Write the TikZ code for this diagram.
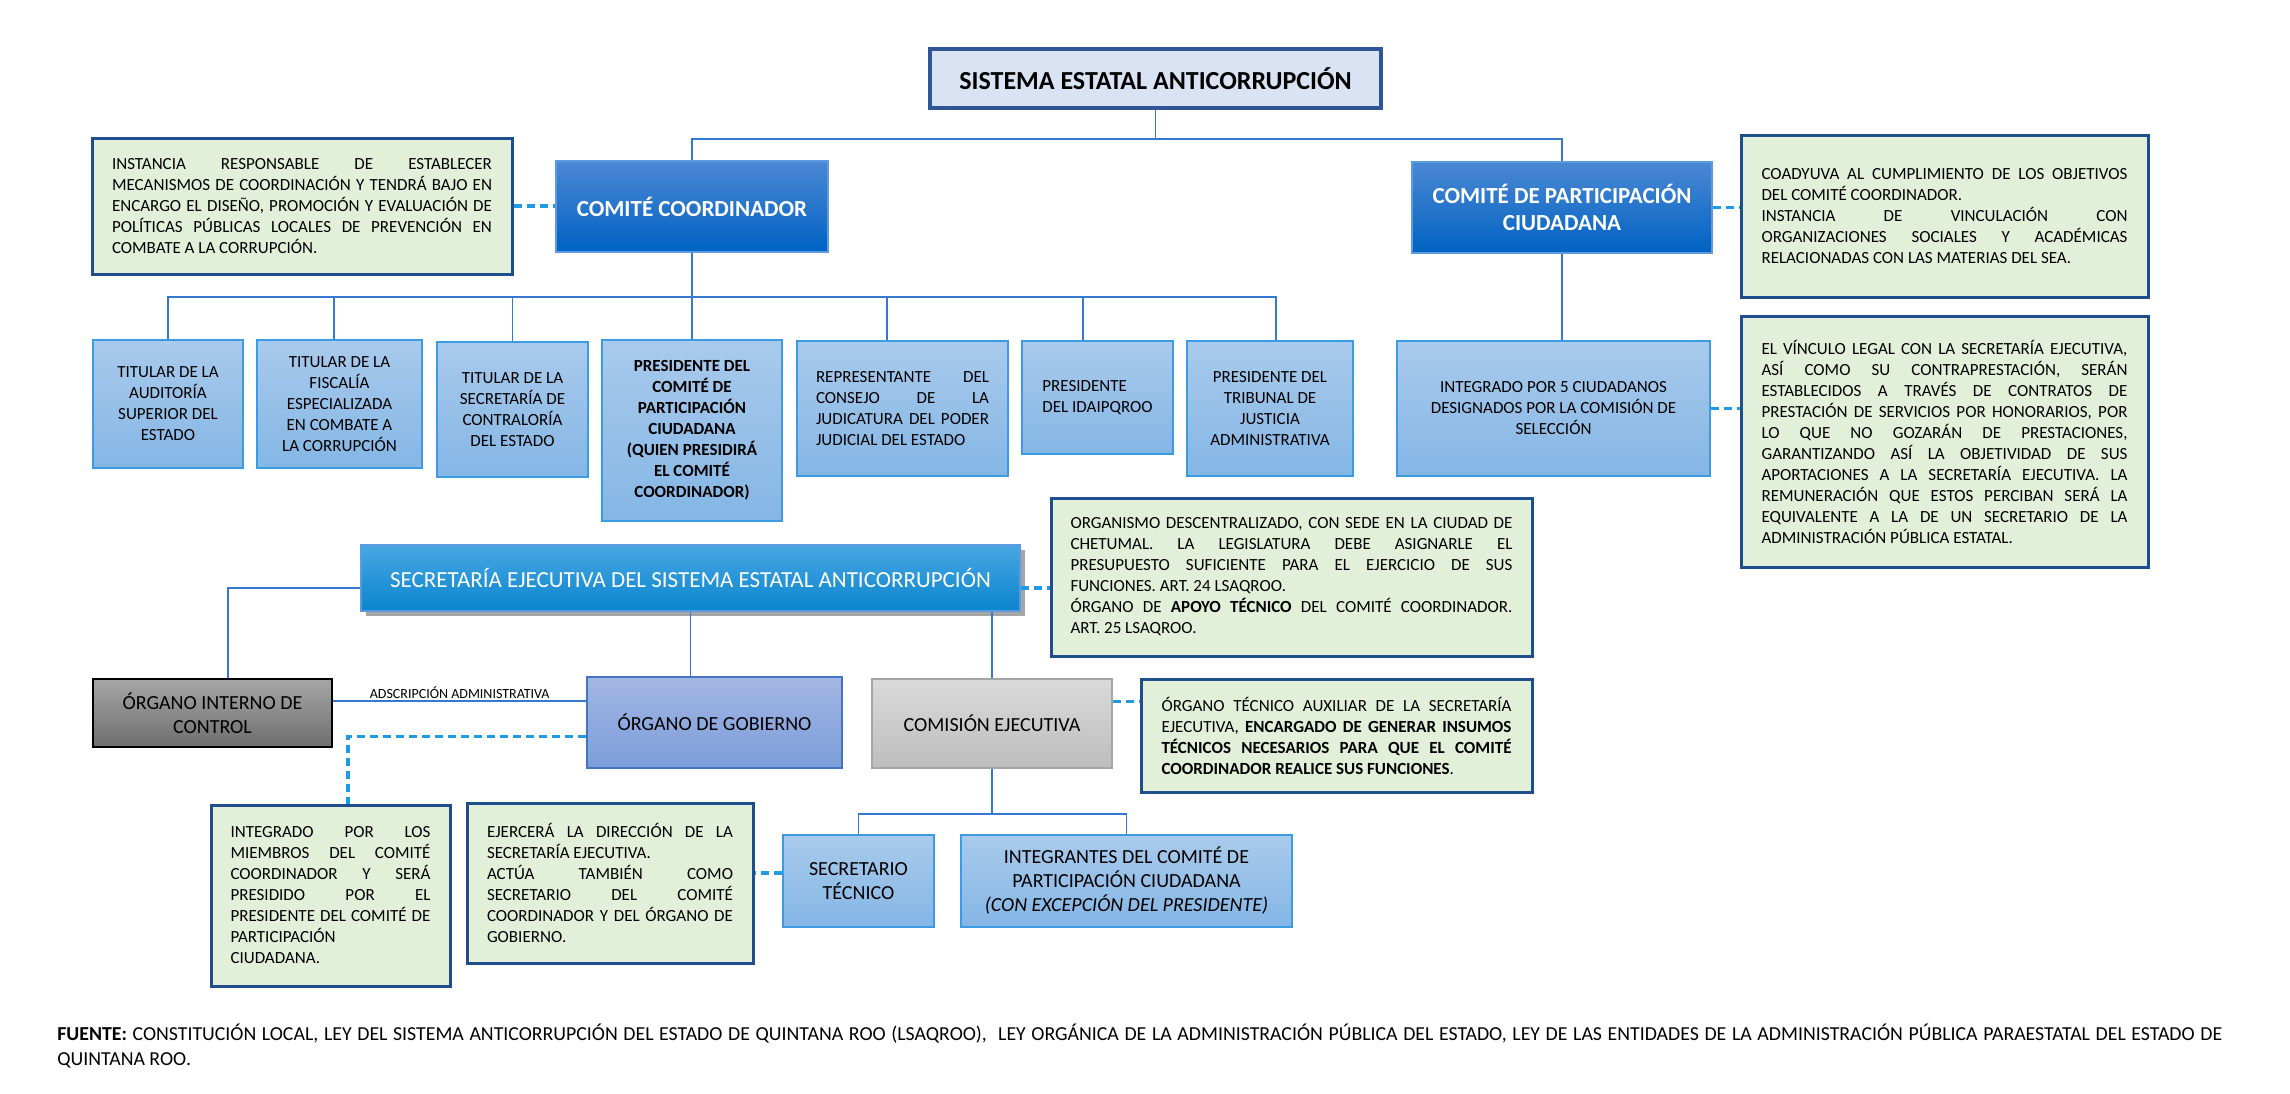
\documentclass[tikz,border=0pt]{standalone}
\usepackage{fontspec}
\setmainfont{Carlito}
\usetikzlibrary{shadows}

\definecolor{linkblue}{HTML}{3479CF}
\definecolor{dashblue}{HTML}{1E9BE3}
\definecolor{notefill}{HTML}{E2EFD9}
\definecolor{notebd}{HTML}{1F4E8C}
\definecolor{titlefill}{HTML}{DAE3F3}
\definecolor{titlebd}{HTML}{2F5597}
\definecolor{memtop}{HTML}{A9CAEC}
\definecolor{membot}{HTML}{84B6E5}
\definecolor{membd}{HTML}{3C9CE3}
\definecolor{headtop}{HTML}{4C88D4}
\definecolor{headbot}{HTML}{0062C2}
\definecolor{headbd}{HTML}{5B9BE0}
\definecolor{sectop}{HTML}{48A6E2}
\definecolor{secbot}{HTML}{0A85CE}
\definecolor{gobtop}{HTML}{A3B6E5}
\definecolor{gobbot}{HTML}{7C9DD8}
\definecolor{gobbd}{HTML}{4472C4}
\definecolor{comtop}{HTML}{DADADA}
\definecolor{combot}{HTML}{BDBDBD}
\definecolor{combd}{HTML}{A5A5A5}
\definecolor{oictop}{HTML}{A6A6A6}
\definecolor{oicbot}{HTML}{6E6E6E}

\newcommand{\txtnote}{\fontsize{8.5}{10.5}\selectfont}
\newcommand{\txthead}{\fontsize{11.5}{13.5}\selectfont}
\newcommand{\txtorg}{\fontsize{10}{12}\selectfont}

\tolerance=10000
\hbadness=10000

\begin{document}
\begin{tikzpicture}[x=0.5pt,y=-0.5pt,
    conn/.style={draw=linkblue,line width=0.9pt},
    dashlink/.style={draw=dashblue,line width=1.6pt,dash pattern=on 4pt off 2.5pt},
    note/.style={draw=notebd,line width=1.5pt,fill=notefill,inner sep=0pt,align=justify,font=\txtnote},
    member/.style={draw=membd,line width=0.8pt,top color=memtop,bottom color=membot,inner sep=0pt,align=center,font=\txtnote},
    head/.style={draw=headbd,line width=0.8pt,top color=headtop,bottom color=headbot,text=white,inner sep=0pt,align=center,font=\txthead\bfseries}]
  \useasboundingbox (0,0) rectangle (2290,1093);

  % cabeza
  \node[draw=titlebd,line width=1.6pt,fill=titlefill,minimum width=225.5pt,minimum height=29.5pt,font=\fontsize{13}{15}\selectfont\bfseries] (sistema) at (1155.5,78.5) {SISTEMA ESTATAL ANTICORRUPCIÓN};
  \node[head,minimum width=136pt,minimum height=45.5pt] (coord) at (692,206.5) {COMITÉ COORDINADOR};
  \node[head,minimum width=150pt,minimum height=45.5pt] (cpc) at (1562,207.5) {COMITÉ DE PARTICIPACIÓN\\CIUDADANA};
  \node[note,minimum width=210pt,minimum height=68pt,text width=190pt] (ncoord) at (302,206) {INSTANCIA RESPONSABLE DE ESTABLECER\linebreak MECANISMOS DE COORDINACIÓN Y TENDRÁ BAJO EN\linebreak ENCARGO EL DISEÑO, PROMOCIÓN Y EVALUACIÓN DE\linebreak POLÍTICAS PÚBLICAS LOCALES DE PREVENCIÓN EN\linebreak COMBATE A LA CORRUPCIÓN.};
  \node[note,minimum width=203.5pt,minimum height=81pt,text width=183pt] (ncpc) at (1944.5,216) {COADYUVA AL CUMPLIMIENTO DE LOS OBJETIVOS\linebreak DEL COMITÉ COORDINADOR.\par INSTANCIA DE VINCULACIÓN CON\linebreak ORGANIZACIONES SOCIALES Y ACADÉMICAS\linebreak RELACIONADAS CON LAS MATERIAS DEL SEA.};

  % integrantes del comite coordinador
  \node[member,minimum width=75pt,minimum height=64pt] (audit) at (168,404) {TITULAR DE LA\\AUDITORÍA\\SUPERIOR DEL\\ESTADO};
  \node[member,minimum width=82.5pt,minimum height=64pt] (fisc) at (339.5,404) {TITULAR DE LA\\FISCALÍA\\ESPECIALIZADA\\EN COMBATE A\\LA CORRUPCIÓN};
  \node[member,minimum width=75.5pt,minimum height=67.5pt] (contral) at (512.5,409.5) {TITULAR DE LA\\SECRETARÍA DE\\CONTRALORÍA\\DEL ESTADO};
  \node[member,minimum width=90pt,minimum height=90.5pt,font=\txtnote\bfseries] (prescpc) at (692,430.5) {PRESIDENTE DEL\\COMITÉ DE\\PARTICIPACIÓN\\CIUDADANA\\(QUIEN PRESIDIRÁ\\EL COMITÉ\\COORDINADOR)};
  \node[member,minimum width=105.5pt,minimum height=67.5pt,text width=86.5pt,align=justify] (judic) at (902.5,408.5) {REPRESENTANTE DEL\linebreak CONSEJO DE LA\linebreak JUDICATURA DEL PODER\linebreak JUDICIAL DEL ESTADO};
  \node[member,minimum width=75.5pt,minimum height=56.5pt,align=left] (idaip) at (1097.5,397.5) {PRESIDENTE\\DEL IDAIPQROO};
  \node[member,minimum width=83pt,minimum height=67.5pt] (tribunal) at (1270,408.5) {PRESIDENTE DEL\\TRIBUNAL DE\\JUSTICIA\\ADMINISTRATIVA};
  \node[member,minimum width=156.5pt,minimum height=67.5pt] (ciud) at (1553.5,408.5) {INTEGRADO POR 5 CIUDADANOS\\DESIGNADOS POR LA COMISIÓN DE\\SELECCIÓN};
  \node[note,minimum width=203.5pt,minimum height=125.5pt,text width=183pt] (nvinc) at (1944.5,441.5) {EL VÍNCULO LEGAL CON LA SECRETARÍA EJECUTIVA,\linebreak ASÍ COMO SU CONTRAPRESTACIÓN, SERÁN\linebreak ESTABLECIDOS A TRAVÉS DE CONTRATOS DE\linebreak PRESTACIÓN DE SERVICIOS POR HONORARIOS, POR\linebreak LO QUE NO GOZARÁN DE PRESTACIONES,\linebreak GARANTIZANDO ASÍ LA OBJETIVIDAD DE SUS\linebreak APORTACIONES A LA SECRETARÍA EJECUTIVA. LA\linebreak REMUNERACIÓN QUE ESTOS PERCIBAN SERÁ LA\linebreak EQUIVALENTE A LA DE UN SECRETARIO DE LA\linebreak ADMINISTRACIÓN PÚBLICA ESTATAL.};

  % secretaria ejecutiva
  \node[draw=headbd,line width=0.6pt,top color=sectop,bottom color=secbot,text=white,font=\txthead,minimum width=329.5pt,minimum height=33pt,
    drop shadow={shadow xshift=2.5pt,shadow yshift=-2.5pt,fill=black,opacity=0.35}] (secej) at (690.5,578) {SECRETARÍA EJECUTIVA DEL SISTEMA ESTATAL ANTICORRUPCIÓN};
  \node[note,minimum width=240.5pt,minimum height=79pt,text width=221pt] (nsecej) at (1291.5,577) {ORGANISMO DESCENTRALIZADO, CON SEDE EN LA CIUDAD DE\linebreak CHETUMAL. LA LEGISLATURA DEBE ASIGNARLE EL\linebreak PRESUPUESTO SUFICIENTE PARA EL EJERCICIO DE SUS\linebreak FUNCIONES. ART. 24 LSAQROO.\par ÓRGANO DE \textbf{APOYO TÉCNICO} DEL COMITÉ COORDINADOR.\linebreak ART. 25 LSAQROO.};
  \node[draw=black,line width=1.2pt,top color=oictop,bottom color=oicbot,align=center,font=\txtorg,minimum width=119.5pt,minimum height=34pt,inner sep=0pt] (oic) at (212.5,713) {ÓRGANO INTERNO DE\\CONTROL};
  \node[draw=gobbd,line width=0.8pt,top color=gobtop,bottom color=gobbot,font=\txtorg,minimum width=127.5pt,minimum height=45.5pt] (gob) at (714.5,722.5) {ÓRGANO DE GOBIERNO};
  \node[draw=combd,line width=0.8pt,top color=comtop,bottom color=combot,font=\txtorg,minimum width=120pt,minimum height=44.5pt] (comej) at (992,723.5) {COMISIÓN EJECUTIVA};
  \node[note,minimum width=195.5pt,minimum height=56.5pt,text width=175pt] (ncomej) at (1336.5,735.5) {ÓRGANO TÉCNICO AUXILIAR DE LA SECRETARÍA\linebreak EJECUTIVA, \textbf{ENCARGADO DE GENERAR INSUMOS\linebreak TÉCNICOS NECESARIOS PARA QUE EL COMITÉ\linebreak COORDINADOR REALICE SUS FUNCIONES}.};
  \node[note,minimum width=119.5pt,minimum height=90.5pt,text width=100pt] (ngob) at (330.5,895.5) {INTEGRADO POR LOS\linebreak MIEMBROS DEL COMITÉ\linebreak COORDINADOR Y SERÁ\linebreak PRESIDIDO POR EL\linebreak PRESIDENTE DEL COMITÉ DE\linebreak PARTICIPACIÓN\linebreak CIUDADANA.};
  \node[note,minimum width=143pt,minimum height=80pt,text width=123pt] (nsect) at (610,883) {EJERCERÁ LA DIRECCIÓN DE LA\linebreak SECRETARÍA EJECUTIVA.\par ACTÚA TAMBIÉN COMO\linebreak SECRETARIO DEL COMITÉ\linebreak COORDINADOR Y DEL ÓRGANO DE\linebreak GOBIERNO.};
  \node[member,minimum width=75.5pt,minimum height=46pt,font=\txtorg] (sectec) at (858.5,881) {SECRETARIO\\TÉCNICO};
  \node[member,minimum width=165.5pt,minimum height=46pt,font=\txtorg] (integ) at (1126.5,881) {INTEGRANTES DEL COMITÉ DE\\PARTICIPACIÓN CIUDADANA\\\textit{(CON EXCEPCIÓN DEL PRESIDENTE)}};

  % fuente
  \node[anchor=base west,inner sep=0pt,text width=1082.5pt,align=justify,font=\fontsize{9.9}{12.5}\selectfont] (fuente) at (57,1040) {\textbf{FUENTE:} CONSTITUCIÓN LOCAL, LEY DEL SISTEMA ANTICORRUPCIÓN DEL ESTADO DE QUINTANA ROO (LSAQROO),\ \ LEY ORGÁNICA DE LA ADMINISTRACIÓN PÚBLICA DEL ESTADO, LEY DE LAS ENTIDADES DE LA ADMINISTRACIÓN PÚBLICA PARAESTATAL DEL ESTADO DE\linebreak QUINTANA ROO.};

  % lineas
  \draw[conn] (sistema.south) -- ++(0,29) -| (coord.north);
  \draw[conn] (sistema.south) -- ++(0,29) -| (cpc.north);
  \foreach \b/\dx in {audit/0,fisc/-2.75,contral/0,prescpc/0,judic/-7.75,idaip/-7.25,tribunal/3}
    \draw[conn] (coord.south) -- ++(0,44) -| ([xshift=\dx pt]\b.north);
  \draw[conn] (cpc.south) -- (cpc.south |- ciud.north);
  \draw[conn] ([yshift=-5pt]secej.west) -| ([xshift=7.75pt]oic.north);
  \draw[conn] (secej.south) -- (secej.south |- gob.north);
  \draw[conn] (secej.south -| comej.north) -- (comej.north);
  \draw[conn] ([yshift=6pt]oic.east) -- ([yshift=6pt]oic.east -| gob.west)
    node[midway,above=1pt,inner sep=0pt,font=\fontsize{7}{8}\selectfont] (adscr) {ADSCRIPCIÓN ADMINISTRATIVA};
  \draw[conn] (comej.south) -- ++(0,45) -| (sectec.north);
  \draw[conn] (comej.south) -- ++(0,45) -| (integ.north);

  \draw[dashlink] (ncoord.east) -- (ncoord.east -| coord.west);
  \draw[dashlink] (cpc.east) -- (cpc.east -| ncpc.west);
  \draw[dashlink] (ciud.east) -- (ciud.east -| nvinc.west);
  \draw[dashlink] ([yshift=-5pt]secej.east) -- ([yshift=-5pt]secej.east -| nsecej.west);
  \draw[dashlink] ([yshift=11pt]comej.east) -- ([yshift=11pt]comej.east -| ncomej.west);
  \draw[dashlink] ([yshift=-7pt]gob.west) -| ([xshift=8.75pt]ngob.north);
  \draw[dashlink] ([yshift=4pt]sectec.west) -- ([yshift=4pt]sectec.west -| nsect.east);
\end{tikzpicture}
\end{document}
